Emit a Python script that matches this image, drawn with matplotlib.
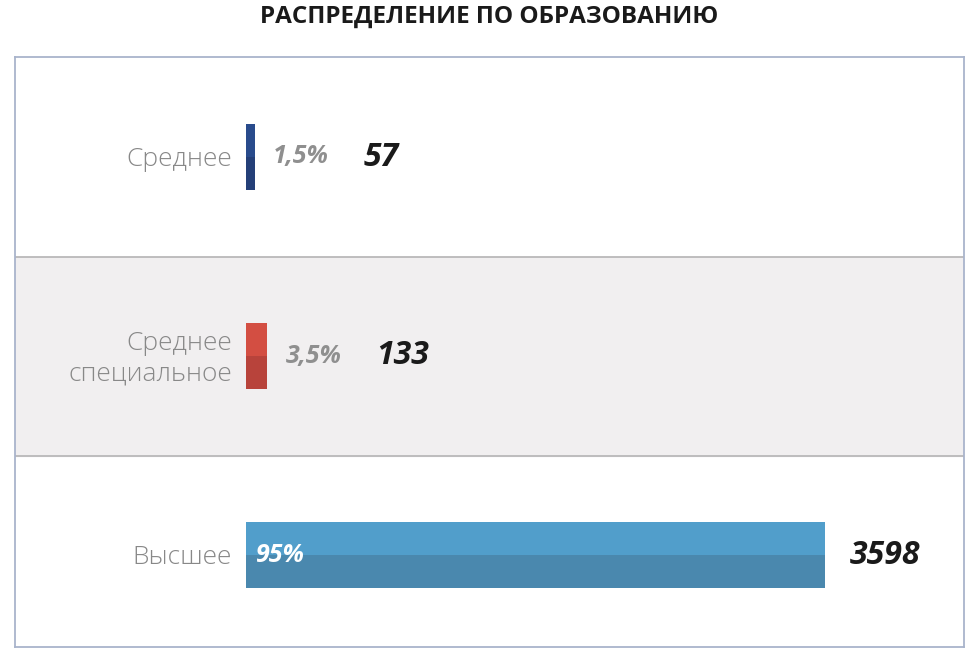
import matplotlib
matplotlib.use("Agg")
import matplotlib.pyplot as plt

plt.rcParams["font.family"] = ["Open Sans", "DejaVu Sans"]

# data
categorias = ["Среднее", "Среднее\nспециальное", "Высшее"]
percentuais = [1.5, 3.5, 95]
rotulos_pct = ["1,5%", "3,5%", "95%"]
quantidades = [57, 133, 3598]

cores_topo = ["#294b8c", "#d34e42", "#519ecb"]
cores_base = ["#243f78", "#b8433b", "#4a88ae"]

fig = plt.figure(figsize=(9.78, 6.55), dpi=100)
ax = fig.add_axes([15 / 978, 1 - 647 / 655, 949 / 978, 590 / 655])

escala = 6.095  # px por ponto percentual
ax.set_xlim(-(246 - 15) / escala, (964 - 246) / escala)
ax.set_ylim(2 + (647 - 555) / 199, -(157 - 57) / 199)

# faixa cinza da linha do meio
ax.axhspan(0.5, 1.5, color="#f1eff0", zorder=0)
for y in (0.5, 1.5):
    ax.axhline(y, color="#b4b4b4", linewidth=1.2, zorder=1)

altura = 0.327
linhas = range(len(categorias))
ax.barh(linhas, percentuais, height=altura, color=cores_topo, zorder=2)
ax.barh(linhas, percentuais, height=altura / 2, align="edge", color=cores_base, zorder=3)

for i, (cat, p, rp, q) in enumerate(zip(categorias, percentuais, rotulos_pct, quantidades)):
    ax.annotate(cat, (0, i), xytext=(-10, -2), textcoords="offset points",
                ha="right", va="center", fontsize=19, color="#888888",
                fontweight="light", linespacing=1.3)
    if p > 50:
        ax.annotate(rp, (0, i), xytext=(7, 0), textcoords="offset points",
                    ha="left", va="center", fontsize=18, color="white",
                    fontweight="bold", fontstyle="italic", zorder=5)
        ax.annotate(f"{q}", (p, i), xytext=(18, 0), textcoords="offset points",
                    ha="left", va="center", fontsize=23, color="#1a1a1a",
                    fontweight="bold", fontstyle="italic")
    else:
        ax.annotate(rp, (p, i), xytext=(13, 0), textcoords="offset points",
                    ha="left", va="center", fontsize=18, color="#8f8f8f",
                    fontweight="bold", fontstyle="italic")
        ax.annotate(f"{q}", (p, i), xytext=(78, 0), textcoords="offset points",
                    ha="left", va="center", fontsize=23, color="#1a1a1a",
                    fontweight="bold", fontstyle="italic")

ax.set_xticks([])
ax.set_yticks([])
for lado in ax.spines.values():
    lado.set_color("#a9b4cc")
    lado.set_linewidth(1.3)

fig.text(0.5, 1 - 17 / 655, "РАСПРЕДЕЛЕНИЕ ПО ОБРАЗОВАНИЮ", ha="center", va="center",
         fontsize=17.5, fontweight="bold", color="#1a1a1a")

fig.savefig("out.png", dpi=100)
